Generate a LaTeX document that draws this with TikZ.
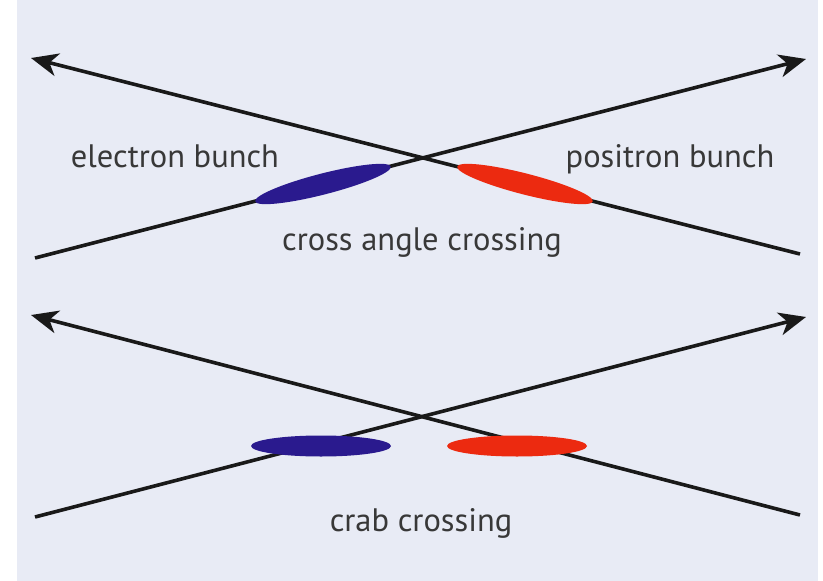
\documentclass[tikz,border=0pt]{standalone}
\usepackage{fontspec}
\setmainfont{PT Sans}
\usetikzlibrary{arrows.meta,shapes.geometric}
\definecolor{bg}{HTML}{E8EBF5}
\definecolor{ebunch}{HTML}{2A1A8E}
\definecolor{pbunch}{HTML}{EC2A10}
\definecolor{txt}{HTML}{383838}
\tikzset{
  beam/.style={line width=3.6pt, black!90},
  beamarrow/.style={beam, -{Stealth[length=27pt,width=23pt,inset=8pt]}},
  bunch/.style={ellipse, inner sep=0pt, minimum width=140pt, minimum height=21pt},
  lbl/.style={font=\fontsize{32.5}{38}\selectfont, text=txt, anchor=base, inner sep=0pt}
}
\begin{document}
\begin{tikzpicture}[x=1pt,y=-1pt]
\path[use as bounding box] (0,0) rectangle (823,581);
\fill[white] (0,0) rectangle (823,581);
\fill[bg] (17,0) rectangle (818,581);
% top: cross angle crossing
\coordinate (a1) at (35,258);
\coordinate (a2) at (806,59);
\coordinate (b1) at (800,254);
\coordinate (b2) at (31,58);
\draw[beamarrow] (a1) -- (a2);
\draw[beamarrow] (b1) -- (b2);
\node[bunch, fill=ebunch, rotate=14.4] (eb1) at (323,184) {};
\node[bunch, fill=pbunch, rotate=-14.4] (pb1) at (525,184) {};
\node[lbl] (t1) at (175,167) {electron bunch};
\node[lbl] (t2) at (670,167) {positron bunch};
\node[lbl] (t3) at (422,250) {cross angle crossing};
% bottom: crab crossing
\coordinate (c1) at (35,517);
\coordinate (c2) at (806,317);
\coordinate (d1) at (800,515);
\coordinate (d2) at (31,315);
\draw[beamarrow] (c1) -- (c2);
\draw[beamarrow] (d1) -- (d2);
\node[bunch, fill=ebunch] (eb2) at (321,446) {};
\node[bunch, fill=pbunch] (pb2) at (517,446) {};
\node[lbl] (t4) at (421,531) {crab crossing};
\end{tikzpicture}
\end{document}
